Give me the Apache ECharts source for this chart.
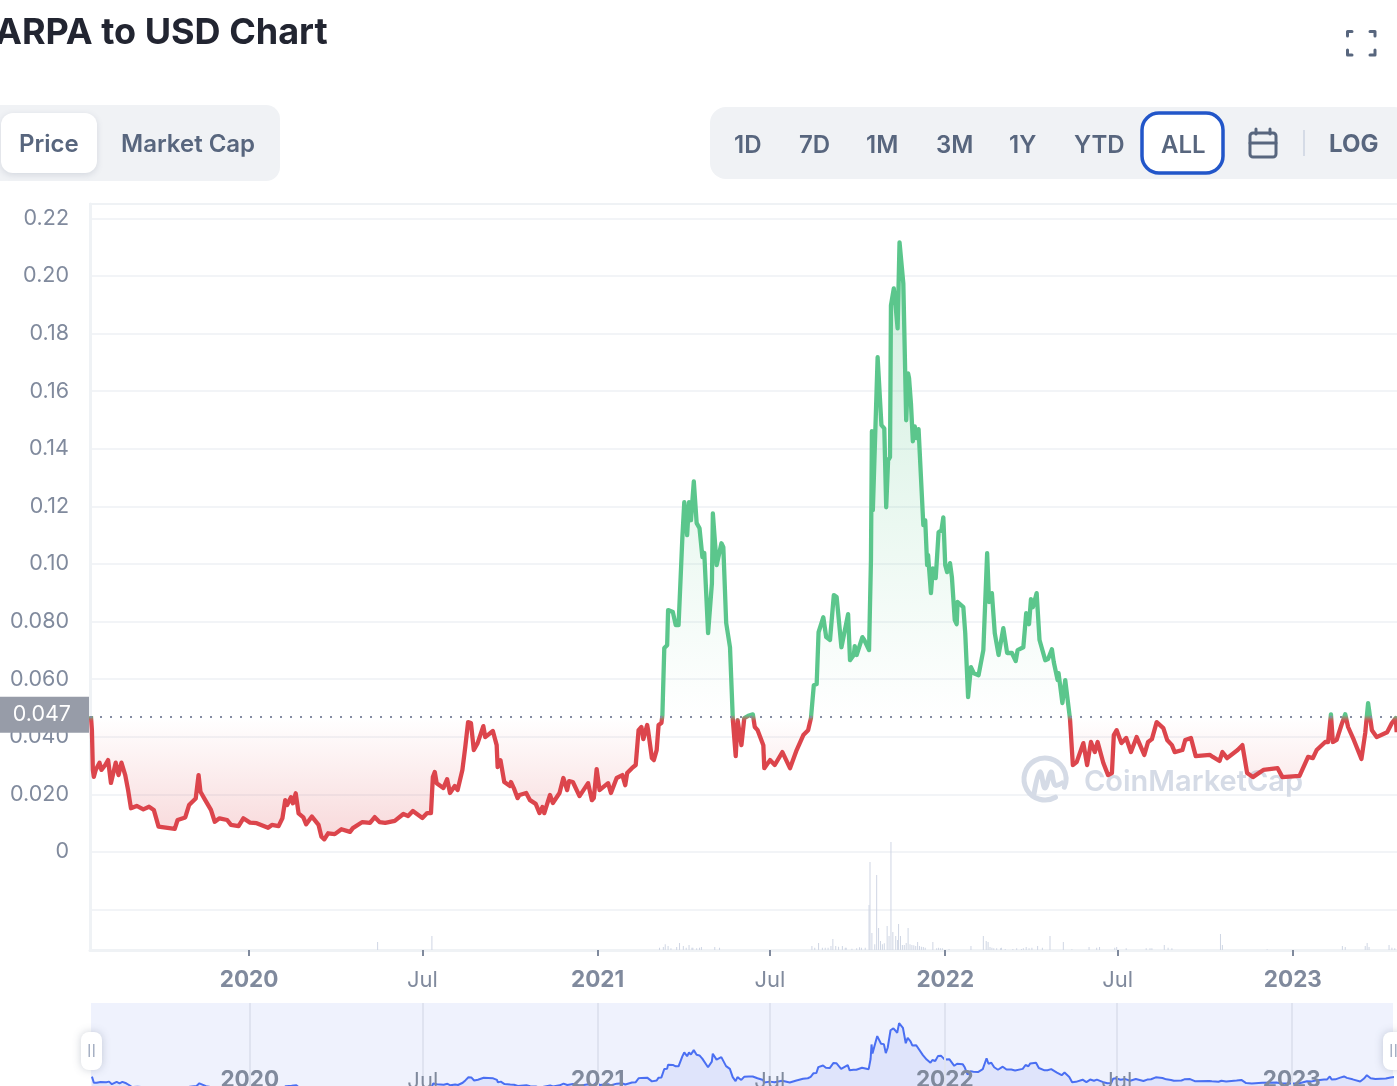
<!DOCTYPE html>
<html>
<head>
<meta charset="utf-8">
<style>html,body{margin:0;padding:0;background:#fff;overflow:hidden}#c{width:1397px;height:1086px}</style>
<script src="https://cdn.jsdelivr.net/npm/echarts@6/dist/echarts.min.js"></script>
</head>
<body>
<div id="c"></div>
<script>
const chartTitle = 'ARPA to USD Chart';
const startDate = '2019-07-19';
const currentPrice = 0.047;
const currentLabel = '0.047';
const yTickValues = [0,0.02,0.04,0.06,0.08,0.10,0.12,0.14,0.16,0.18,0.20,0.22];
const yTickLabels = ['0','0.020','0.040','0.060','0.080','0.10','0.12','0.14','0.16','0.18','0.20','0.22'];
const yGridValues = [-0.02].concat(yTickValues);
const xTickDates = ['2020-01-01','2020-07-01','2021-01-01','2021-07-01','2022-01-01','2022-07-01','2023-01-01'];
const xTickLabels = ['2020','Jul','2021','Jul','2022','Jul','2023'];
const priceTabs = ['Price','Market Cap'];
const rangeTabs = ['1D','7D','1M','3M','1Y','YTD','ALL','LOG'];
const watermark = 'CoinMarketCap';

// days after startDate
const priceDays = [0,1,2,3,5,9,11,15,18,21,23,26,29,32,36,39,42,48,55,61,66,71,88,91,99,103,110,113,115,120,126,130,135,143,147,155,160,167,174,186,190,197,201,204,206,210,212,215,218,223,226,232,239,242,245,249,256,263,272,
275,285,293,298,303,309,319,328,333,338,348,353,357,359,361,363,370,374,377,382,385,390,393,396,399,402,406,412,414,422,426,427,430,434,440,441,444,448,450,457,461,467,471,474,476,482,485,492,496,500,502,506,513,522,526,528,531,534,543,546,552,558,561,563,568,572,575,578,580,584,585,589,591,594,596,599,600,
602,605,606,611,614,617,621,623,626,628,630,633,636,639,642,644,648,652,653,657,662,664,667,671,674,677,679,683,686,691,695,697,700,706,707,713,718,726,734,741,748,753,756,759,762,764,769,772,776,780,783,788,795,797,801,802,804,810,812,817,819,820,821,826,830,833,835,837,839,840,843,845,847,849,853,856,858,859,861,863,865,867,869,
874,876,878,879,882,884,887,890,893,895,897,899,902,904,907,909,910,916,918,921,924,927,932,937,941,943,946,949,953,958,960,962,967,971,973,979,982,985,987,989,993,996,1002,1005,1009,1011,1015,1016,1020,1023,1028,
1031,1035,1042,1046,1050,1054,1057,1063,1068,1072,1074,1077,1082,1087,1092,1098,1106,1110,1114,1119,1126,1130,1135,1138,1146,1149,1155,1160,1175,1178,1185,1188,1193,1204,1209,1214,1220,1231,1246,1251,1269,1278,1283,1287,1296,1299,1302,1304,1308,1313,1317,1320,1326,1334,1338,1341,1345,1350,1361,1366,1370,1371];
const priceValues = [.0472,.0423,.0285,.0261,.0285,.0310,.0285,.0302,.0319,.0240,.0267,.0310,.0267,.0310,.0267,.0215,.0152,.0160,.0148,.0157,.0146,.0088,.0080,.0111,.0120,.0163,.0186,.0267,.0209,.0180,.0146,.0105,.0117,.0111,.0094,.0090,.0117,.0102,.0100,.0084,.0094,.0090,.0117,.0180,.0163,.0190,.0169,.0204,.0134,.0120,.0096,.0123,.0094,.0053,.0044,.0065,.0062,.0079,.0070,
.0083,.0104,.0101,.0121,.0104,.0101,.0108,.0132,.0125,.0142,.0118,.0135,.0135,.0260,.0278,.0239,.0222,.0253,.0205,.0229,.0215,.0285,.0364,.0451,.0448,.0354,.0378,.0437,.0399,.0420,.0371,.0295,.0319,.0243,.0229,.0243,.0222,.0187,.0198,.0205,.0180,.0167,.0135,.0156,.0135,.0198,.0170,.0205,.0257,.0215,.0246,.0243,.0194,.0239,.0180,.0187,.0288,.0215,.0239,.0205,.0257,.0267,.0232,.0274,.0291,.0302,.0423,.0434,.0392,.0441,.0423,.0326,.0319,.0354,.0441,.0448,.0475,
.0708,.0718,.0840,.0833,.0788,.0788,.1093,.1215,.1100,.1215,.1152,.1287,.1142,.1124,.1024,.1038,.0760,.0933,.1176,.0996,.1072,.1058,.0795,.0711,.0458,.0333,.0458,.0371,.0465,.0474,.0478,.0434,.0423,.0371,.0291,.0319,.0302,.0347,.0291,.0354,.0406,.0423,.0465,.0579,.0583,.0763,.0815,.0746,.0736,.0892,.0885,.0711,.0826,.0666,.0684,.0715,.0684,.0746,.0736,.0701,.1013,.1461,.1187,.1718,.1482,.1471,.1197,.1360,.1371,.1898,.1957,.1891,.1818,.2117,.1974,.1499,.1662,.1645,.1558,.1426,.1478,.1437,.1468,
.1135,.1152,.0996,.1031,.0899,.0985,.0951,.1110,.1117,.1162,.0996,.0972,.1003,.0954,.0805,.0791,.0868,.0850,.0760,.0538,.0642,.0621,.0614,.0701,.1038,.0868,.0899,.0760,.0684,.0777,.0777,.0691,.0691,.0663,.0701,.0711,.0829,.0791,.0878,.0850,.0899,.0736,.0666,.0670,.0704,.0659,.0597,.0621,.0517,.0597,.0462,
.0302,.0312,.0378,.0302,.0382,.0347,.0382,.0309,.0267,.0274,.0406,.0423,.0378,.0396,.0347,.0399,.0337,.0382,.0392,.0451,.0430,.0389,.0371,.0347,.0354,.0389,.0396,.0333,.0337,.0330,.0316,.0347,.0326,.0354,.0371,.0274,.0260,.0285,.0291,.0260,.0264,.0330,.0326,.0354,.0382,.0382,.0478,.0382,.0389,.0441,.0478,.0434,.0389,.0323,.0413,.0517,.0423,.0399,.0416,.0448,.0465,.0416];

// relative volume, same day offsets scheme
const volumeDays = [301,358,597,601,603,606,609,615,618,622,625,628,631,632,636,639,641,655,660,757,760,764,768,771,774,777,779,782,785,789,792,793,799,804,807,809,813,817,818,820,823,825,827,829,831,833,836,838,840,842,845,847,848,850,852,854,856,858,860,862,864,866,868,870,872,874,876,884,888,890,892,894,901,924,937,940,942,944,946,948,951,955,956,960,968,972,977,979,982,985,988,994,999,1007,1021,1030,1048,1056,1059,1075,1077,1087,1108,1112,1114,1127,1131,1135,1186,1188,1235,1314,1317,1338,1340,1342,1363,1366,1369];
const volumeValues = [8,14,2.3,3,5.7,4,1.7,3,7,4,2.3,5,2.3,2.3,1.7,2.3,3,3,2.3,4,2.3,7,2.3,2.3,2.3,4,11,4,3.3,4,2.3,2.3,1.3,1.7,2.7,2.3,2.3,45,88,17,5.7,75,22,9,5.7,6.7,24,14,108,18,14,10,26,14,5,5,7,22,5.7,5,4.7,4,8,4,3.3,3,2.3,8,1.7,2.3,1.7,1.7,1,4,14,9,8,3,2.3,1.7,1.7,1.7,2.3,1,1,1.7,1,1.7,3,1.7,2.3,4,2.3,14,8,0.7,3,2.3,3,2.3,3,1.7,1.7,1.7,1.7,5,2.3,1.7,16,5,0.7,4,3,4,7,3,5,2.3,1.7];

const DAY = 86400000;
const t0 = Date.parse(startDate + 'T00:00:00Z');
const pricePairs = priceDays.map((d,i)=>[t0 + d*DAY, priceValues[i]]);
const volumePairs = volumeDays.map((d,i)=>[t0 + d*DAY, volumeValues[i]]);
const xTicks = xTickDates.map(s=>Date.parse(s+'T00:00:00Z'));
const tickLabelFor = v => {const i = xTicks.indexOf(v); return i<0?'':(xTickLabels[i]==='Jul'?xTickLabels[i]:'{y|'+xTickLabels[i]+'}');};

const FONT = 'Inter';
const AXIS = '#808a9d', SLATE = '#58667e', RULE = '#eff2f5', PANEL = '#f0f2f5';
const GREEN = '#5bc68c', RED = '#dc454c';

const xAxisBase = (extra)=>Object.assign({
  type:'value',
  axisLine:{show:true,onZero:false,lineStyle:{color:RULE,width:3}},
  splitLine:{show:false},
  axisTick:{show:true,customValues:xTicks,length:6,lineStyle:{color:AXIS,width:2}},
  axisLabel:{customValues:xTicks,hideOverlap:false,formatter:tickLabelFor,fontFamily:FONT,fontSize:22,color:AXIS,margin:19,
    rich:{y:{fontFamily:FONT,fontSize:22.5,fontWeight:700,color:AXIS}}}
},extra);

function rr(x,y,w,h,r,fill,extra){return {type:'rect',z:1,shape:{x,y,width:w,height:h,r},style:Object.assign({fill},extra||{})};}
function tx(text,x,y,font,fill,align){return {type:'text',z:5,x,y,style:{text,font,fill,align:align||'left',verticalAlign:'middle'}};}
function stroke(points,color,w,smooth){return {type:'polyline',z:3,shape:{points,smooth:smooth||0},style:{stroke:color,lineWidth:w,fill:'none',lineCap:'round',lineJoin:'round'}};}

const tabFont='600 24px '+FONT;
const graphics=[
  // price / market-cap switch
  rr(-20,105,300,76,14,PANEL),
  rr(1,113,96,60,12,'#ffffff',{shadowBlur:6,shadowColor:'rgba(88,102,126,0.18)',shadowOffsetY:2}),
  tx(priceTabs[0],19,145,tabFont,SLATE),
  tx(priceTabs[1],121,145,tabFont,SLATE),
  // range switch
  rr(710,107,700,72,16,PANEL),
  rr(1142,113,81,60,17,'#ffffff',{stroke:'#2256c9',lineWidth:3.5,shadowBlur:0}),
  tx(rangeTabs[0],734,146,tabFont,SLATE),
  tx(rangeTabs[1],799,146,tabFont,SLATE),
  tx(rangeTabs[2],866,146,tabFont,SLATE),
  tx(rangeTabs[3],936,146,tabFont,SLATE),
  tx(rangeTabs[4],1009,146,tabFont,SLATE),
  tx(rangeTabs[5],1074,146,tabFont,SLATE),
  tx(rangeTabs[6],1161,146,tabFont,SLATE),
  tx(rangeTabs[7],1329,145,'700 24px '+FONT,SLATE),
  // calendar icon
  {type:'rect',z:3,shape:{x:1250,y:133,width:26,height:24,r:3},style:{fill:'none',stroke:SLATE,lineWidth:3}},
  stroke([[1250,143],[1276,143]],SLATE,3),
  stroke([[1256,129],[1256,134]],SLATE,3),
  stroke([[1270,129],[1270,134]],SLATE,3),
  {type:'rect',z:3,shape:{x:1303,y:130,width:2,height:26},style:{fill:'#d5dbe6'}},
  // fullscreen icon
  stroke([[1347.5,36],[1347.5,31.5],[1352,31.5]],SLATE,3),
  stroke([[1370,31.5],[1375,31.5],[1375,36]],SLATE,3),
  stroke([[1347.5,50],[1347.5,55],[1352,55]],SLATE,3),
  stroke([[1370,55],[1375,55],[1375,50]],SLATE,3),
  // watermark (under the series)
  {type:'arc',z:1,shape:{cx:1045,cy:779,r:21,startAngle:1.05,endAngle:0.55+Math.PI*2-0.15},style:{stroke:'#d5dbe6',lineWidth:5,fill:'none',lineCap:'round'}},
  {type:'polyline',z:1,shape:{points:[[1034,794],[1040,772],[1045,788],[1051,772],[1055,785],[1062,783]],smooth:0.4},style:{stroke:'#d5dbe6',lineWidth:5,fill:'none',lineCap:'round'}},
  {type:'text',z:1,x:1084,y:782,style:{text:watermark,font:'600 29px '+FONT,fill:'#d5dbe6',align:'left',verticalAlign:'middle'}},
  // navigator handles
  rr(81,1032,21,38,8,'#ffffff',{shadowBlur:8,shadowColor:'rgba(88,102,126,0.3)'}),
  {type:'rect',z:3,shape:{x:88.5,y:1044,width:1.5,height:13},style:{fill:'#a6b0c3'}},
  {type:'rect',z:3,shape:{x:93,y:1044,width:1.5,height:13},style:{fill:'#a6b0c3'}},
  rr(1383,1032,21,38,8,'#ffffff',{shadowBlur:8,shadowColor:'rgba(88,102,126,0.3)'}),
  {type:'rect',z:3,shape:{x:1390.5,y:1044,width:1.5,height:13},style:{fill:'#a6b0c3'}},
  {type:'rect',z:3,shape:{x:1395,y:1044,width:1.5,height:13},style:{fill:'#a6b0c3'}}
];

// gradients are anchored to the chart's value scale: the split sits at the current price
const splitStop = 0.689;
const lineColor = new echarts.graphic.LinearGradient(0,204,0,950,[
  {offset:0,color:GREEN},{offset:splitStop-0.004,color:GREEN},
  {offset:splitStop+0.004,color:RED},{offset:1,color:RED}],true);
const areaColor = new echarts.graphic.LinearGradient(0,204,0,950,[
  {offset:0.048,color:'rgba(91,198,140,0.30)'},
  {offset:splitStop,color:'rgba(91,198,140,0)'},
  {offset:splitStop,color:'rgba(220,69,76,0)'},
  {offset:0.86,color:'rgba(220,69,76,0.22)'},
  {offset:1,color:'rgba(220,69,76,0.22)'}],true);

const chart = echarts.init(document.getElementById('c'),null,{width:1397,height:1086});
chart.setOption({
  animation:false,
  backgroundColor:'#ffffff',
  title:{text:chartTitle,left:-5,top:15,padding:0,textStyle:{fontFamily:FONT,fontSize:36,fontWeight:700,color:'#222531'}},
  graphic:graphics,
  grid:[
    {left:90,top:204,width:1320,height:746,outerBoundsMode:'none',show:true,borderColor:RULE,borderWidth:2,backgroundColor:'transparent'},
    {left:91,top:1003,width:1302,height:89,outerBoundsMode:'none',show:true,borderWidth:0,backgroundColor:'#eff2fd'}
  ],
  xAxis:[
    xAxisBase({gridIndex:0,min:t0-DAY,max:t0+1385*DAY}),
    xAxisBase({gridIndex:1,z:5,min:t0-DAY,max:t0+1368.5*DAY,
      axisLine:{show:false},axisTick:{show:false,customValues:xTicks},
      splitLine:{show:true,lineStyle:{color:'#dfe3f0',width:2}},
      axisLabel:{inside:true,customValues:xTicks,formatter:tickLabelFor,fontFamily:FONT,fontSize:22,color:AXIS,margin:0,
        rich:{y:{fontFamily:FONT,fontSize:22.5,fontWeight:700,color:AXIS}}}})
  ],
  yAxis:[
    {type:'value',gridIndex:0,min:-0.03403,max:0.225,
      axisLine:{show:true,onZero:false,lineStyle:{color:RULE,width:3}},
      axisTick:{show:false,customValues:yGridValues},
      splitLine:{show:true,lineStyle:{color:'#f2f4f7',width:2}},
      axisLabel:{customValues:yTickValues,formatter:(v)=>yTickLabels[yTickValues.findIndex(t=>Math.abs(t-v)<1e-6)],fontFamily:FONT,fontSize:21.5,color:AXIS,margin:21}},
    {type:'value',gridIndex:0,min:0,max:746,show:false,splitLine:{show:false}},
    {type:'value',gridIndex:1,min:0,max:0.2735,show:false,splitLine:{show:false}}
  ],
  series:[
    {name:'Volume',type:'custom',xAxisIndex:0,yAxisIndex:1,data:volumePairs,z:2,silent:true,clip:true,
      encode:{x:0,y:1},
      renderItem:(params,api)=>{
        const top=api.coord([api.value(0),api.value(1)]);
        const base=api.coord([api.value(0),0]);
        return {type:'rect',shape:{x:top[0]-0.5,y:top[1],width:1,height:base[1]-top[1]},style:{fill:'#cfd6e4'}};
      }},
    {name:'Price',type:'line',xAxisIndex:0,yAxisIndex:0,data:pricePairs,showSymbol:false,symbol:'none',z:3,
      lineStyle:{width:4.3,join:'round',color:lineColor},itemStyle:{color:GREEN},
      areaStyle:{origin:currentPrice,opacity:1,color:areaColor},
      markLine:{silent:true,symbol:'none',z:6,precision:3,
        lineStyle:{type:[2,8],color:'#858ca2',width:2},
        label:{show:true,position:'start',distance:0,offset:[-1,-2],formatter:currentLabel,backgroundColor:'#979ca8',color:'#ffffff',fontFamily:FONT,fontSize:21.5,padding:[9,18,5,13]},
        data:[{yAxis:currentPrice}]}},
    {name:'Navigator',type:'line',xAxisIndex:1,yAxisIndex:2,data:pricePairs,showSymbol:false,symbol:'none',z:2,
      lineStyle:{width:2,color:'#4a6ff2'},itemStyle:{color:'#4a6ff2'},areaStyle:{origin:'start',color:'#dfe4fb',opacity:1}}
  ]
});
</script>
</body>
</html>
